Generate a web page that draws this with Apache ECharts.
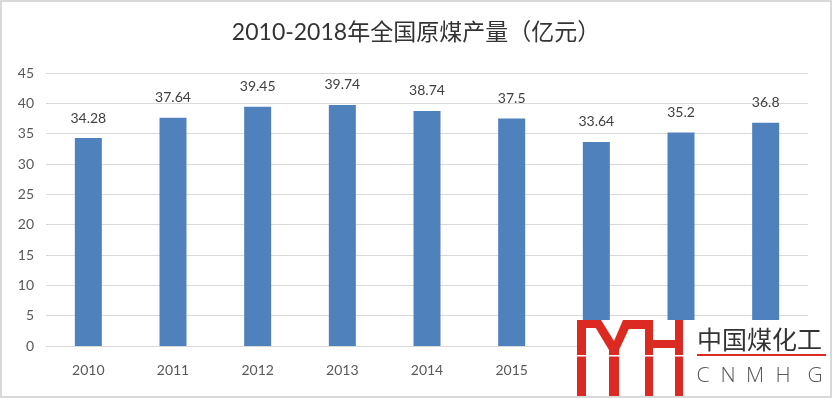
<!DOCTYPE html>
<html style="height:100%;">
<head>
    <meta charset="utf-8">
    <title>2010-2018年全国原煤产量</title>
    <script src="https://cdn.jsdelivr.net/npm/echarts@6/dist/echarts.min.js"></script>
</head>
<body style="height: 100%; margin: 0;">
    <div id="main" style="width: 832px; height: 398px;"></div>
    <script type="text/javascript">
    // 数据
    var years = ['2010', '2011', '2012', '2013', '2014', '2015', '2016', '2017', '2018'];
    var output = [34.28, 37.64, 39.45, 39.74, 38.74, 37.5, 33.64, 35.2, 36.8];
    var titleText = '2010-2018年全国原煤产量（亿元）';

    var numFont = 'Lato, "Noto Sans CJK SC", sans-serif';
    var red = '#dc2a22';

    // 水印 logo
    function box(x, y, w, h, color) {
        return { type: 'rect', z: 100, silent: true, shape: { x: x, y: y, width: w, height: h }, style: { fill: color } };
    }
    var letters = ['C', 'N', 'M', 'H', 'G'];
    var letterX = [703, 728, 755, 783, 815];
    var logo = [
        box(577, 320, 252, 76, '#fff'),
        box(577, 320, 9, 77, red),
        box(577, 320, 19, 8, red),
        {
            type: 'polygon', z: 100, silent: true,
            shape: { points: [[591, 320], [601, 320], [614, 341], [623, 320], [633, 320], [619, 350], [619, 397], [609, 397], [609, 350]] },
            style: { fill: red }
        },
        box(628, 320, 25, 9, red),
        box(645, 320, 8, 77, red),
        box(653, 340, 22, 8, red),
        box(675, 320, 8, 77, red),
        box(577, 355, 108, 1.5, '#fff'),
        {
            type: 'text', z: 100, silent: true, x: 697, y: 339,
            style: { text: '中国煤化工', font: '25px "Noto Sans CJK SC"', fill: '#333', textVerticalAlign: 'middle' }
        },
        box(697, 354, 129, 2, red)
    ];
    letters.forEach(function (c, i) {
        logo.push({
            type: 'text', z: 100, silent: true, x: letterX[i], y: 376,
            style: { text: c, font: '300 21px "Open Sans", sans-serif', fill: '#595959', textAlign: 'center', textVerticalAlign: 'middle' }
        });
    });
    // 外框
    logo.push({
        type: 'rect', z: 101, silent: true,
        shape: { x: 1, y: 1, width: 830, height: 396 },
        style: { fill: 'none', stroke: '#d9d9d9', lineWidth: 2 }
    });

    var myChart = echarts.init(document.getElementById('main'));
    myChart.setOption({
        animation: false,
        title: {
            text: titleText,
            left: 'center',
            top: 16,
            textStyle: { fontSize: 23, fontWeight: 'normal', color: '#333', fontFamily: numFont }
        },
        grid: { left: 46, right: 24, top: 73, bottom: 52, containLabel: false },
        xAxis: {
            type: 'category',
            data: years,
            axisLine: { lineStyle: { color: '#d9d9d9' } },
            axisTick: { show: false },
            axisLabel: { color: '#595959', fontSize: 14, fontFamily: numFont, margin: 17 }
        },
        yAxis: {
            type: 'value',
            min: 0,
            max: 45,
            interval: 5,
            axisLine: { show: false },
            axisTick: { show: false },
            splitLine: { lineStyle: { color: '#d9d9d9' } },
            axisLabel: { color: '#595959', fontSize: 14, fontFamily: numFont, margin: 12 }
        },
        series: [{
            name: '原煤产量',
            type: 'bar',
            data: output,
            barWidth: 27,
            itemStyle: { color: '#4f81bd' },
            label: {
                show: true,
                position: 'top',
                distance: 13,
                color: '#404040',
                fontSize: 14,
                fontFamily: numFont
            }
        }],
        graphic: logo
    });
</script>
</body>
</html>
